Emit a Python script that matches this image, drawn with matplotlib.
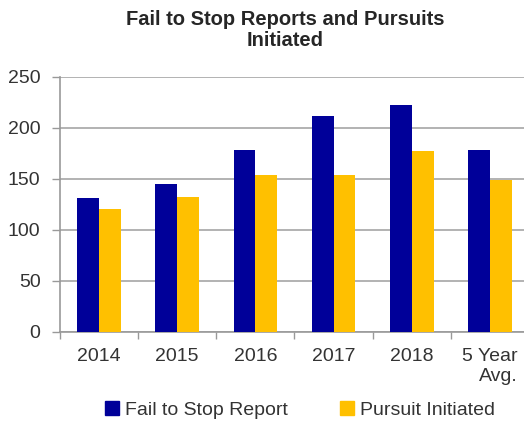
import numpy as np
import matplotlib
matplotlib.use("Agg")
import matplotlib.pyplot as plt
from matplotlib.patches import Patch

# data
categories = ["2014", "2015", "2016", "2017", "2018", "5 Year\nAvg."]
fail_to_stop = [131, 145, 178, 211, 222, 178]
pursuit = [120, 132, 154, 154, 177, 149]

blue = "#000099"
gold = "#FFC000"

plt.rcParams["font.family"] = ["Liberation Sans", "DejaVu Sans"]

fig = plt.figure(figsize=(5.24, 4.23), dpi=100)
ax = fig.add_axes([60 / 524, 91.3 / 423, 469 / 524, 255 / 423])

x = np.arange(len(categories))
w = 0.28
ax.bar(x - w / 2, fail_to_stop, w, color=blue, zorder=3)
ax.bar(x + w / 2, pursuit, w, color=gold, zorder=3)

ax.set_xlim(-0.5, len(categories) - 0.5)
ax.set_ylim(0, 250)
ax.set_yticks(range(0, 251, 50))
ax.yaxis.grid(True, color="#a6a6a6", linewidth=1.2, zorder=0)

# category labels centered, ticks at the boundaries
ax.set_xticks(x)
ax.set_xticklabels(categories, fontsize=14, color="#333333", multialignment="right")
ax.set_xticks(np.arange(len(categories) + 1) - 0.5, minor=True)
ax.tick_params(axis="x", which="major", length=0, pad=12)
ax.tick_params(axis="x", which="minor", length=5, color="#999999", width=1)
ax.tick_params(axis="y", length=6, color="#999999", width=1, labelsize=14,
               labelcolor="#333333", pad=8)

for side in ["top", "right"]:
    ax.spines[side].set_visible(False)
for side in ["left", "bottom"]:
    ax.spines[side].set_color("#999999")
    ax.spines[side].set_linewidth(1.2)

# two-line title, each line placed on its own baseline
title_kw = dict(ha="center", va="baseline", fontsize=14.5, fontweight="bold", color="#262626")
fig.text(285 / 524, 1 - 25 / 423, "Fail to Stop Reports and Pursuits", **title_kw)
fig.text(285 / 524, 1 - 45.5 / 423, "Initiated", **title_kw)

handles = [Patch(color=blue, label="Fail to Stop Report"),
           Patch(color=gold, label="Pursuit Initiated")]
fig.legend(handles=handles, loc="center", bbox_to_anchor=(300 / 524, 1 - 410 / 423),
           ncol=2, frameon=False, fontsize=14, handlelength=0.7, handleheight=0.7,
           handletextpad=0.3, columnspacing=2.7, labelcolor="#333333")

fig.savefig("out.png", dpi=100)
